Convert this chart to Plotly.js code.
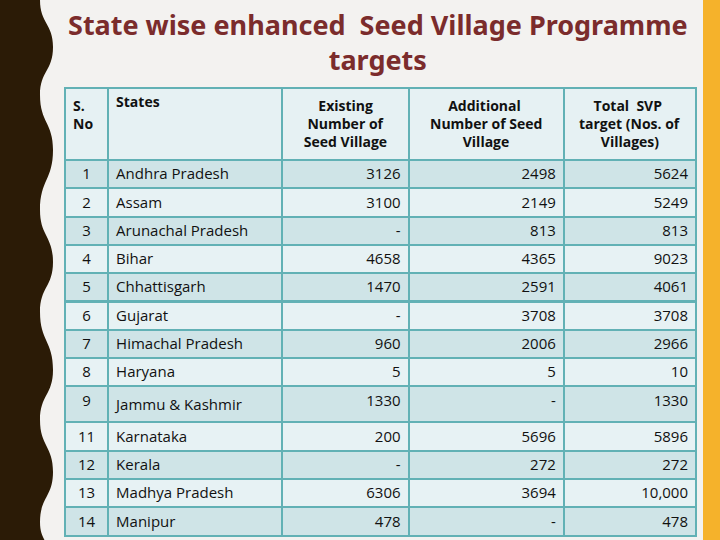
<!DOCTYPE html>
<html>
<head>
<meta charset="utf-8">
<script src="https://cdn.plot.ly/plotly-3.0.1.min.js"></script>
<style>html,body{margin:0;padding:0;background:#f3f2f0;}#chart{width:720px;height:540px;}</style>
</head>
<body>
<div id="chart"></div>
<script>
const headers = [["S.", "No"], ["States"], ["Existing", "Number of", "Seed Village"], ["Additional", "Number of Seed", "Village"], ["Total  SVP", "target (Nos. of", "Villages)"]];
const serialNo = ["1","2","3","4","5","6","7","8","9","11","12","13","14"];
const states = ["Andhra Pradesh","Assam","Arunachal Pradesh","Bihar","Chhattisgarh","Gujarat","Himachal Pradesh","Haryana","Jammu & Kashmir","Karnataka","Kerala","Madhya Pradesh","Manipur"];
const existing = ["3126","3100","-","4658","1470","-","960","5","1330","200","-","6306","478"];
const additional = ["2498","2149","813","4365","2591","3708","2006","5","-","5696","272","3694","-"];
const totalTarget = ["5624","5249","813","9023","4061","3708","2966","10","1330","5896","272","10,000","478"];

const W = 720, H = 540;
const px = x => x / W, py = y => 1 - y / H;

const nb = "\u00A0";
const headFont = {family: "Open Sans, sans-serif", size: 14, color: "#111111", weight: "bold"};
// centre each header line within its block (Plotly left-aligns lines of a multi-line cell)
const cv = document.createElement("canvas").getContext("2d");
cv.font = "bold 14px 'Open Sans'";
const spaceW = cv.measureText(nb).width;
function centreLines(lines, doCentre) {
  if (!doCentre) return lines.join("<br>");
  const ws = lines.map(l => cv.measureText(l).width);
  const mx = Math.max(...ws);
  return lines.map((l, i) => nb.repeat(Math.round((mx - ws[i]) / 2 / spaceW)) + l).join("<br>");
}
const headerText = headers.map((h, i) => centreLines(h, i >= 2));
const stateText = states.map(s => s.replace(/&/g, "&amp;"));

// wavy dark band on the left
const wave = [[0,40],[47,53],[95,40],[150,53],[210,40],[262,53],[312,40],[370,53],[420,40],[472,53],[522,40],[560,50]];
let d = `M ${px(0)} ${py(0)} L ${px(wave[0][1])} ${py(wave[0][0])}`;
for (let i = 1; i < wave.length; i++) {
  const [y0, x0] = wave[i-1], [y1, x1] = wave[i];
  const ym = (y1 - y0) / 2;
  d += ` C ${px(x0)} ${py(y0 + ym)} ${px(x1)} ${py(y1 - ym)} ${px(x1)} ${py(y1)}`;
}
d += ` L ${px(0)} ${py(560)} Z`;

const odd = "#cfe4e7", even = "#e7f2f4";
const rowFill = states.map((_, i) => i % 2 === 0 ? odd : even);

const trace = {
  type: "table",
  domain: {x: [px(65), px(696)], y: [py(537), py(88)]},
  columnwidth: [43, 174, 126, 155, 132],
  header: {
    values: headerText,
    align: ["left", "left", "center", "center", "center"],
    fill: {color: "#e6f1f3"},
    line: {color: "#62b1b5", width: 2},
    font: headFont,
    height: 72
  },
  cells: {
    values: [serialNo, stateText, existing, additional, totalTarget],
    align: ["center", "left", "right", "right", "right"],
    fill: {color: [rowFill, rowFill, rowFill, rowFill, rowFill]},
    line: {color: "#62b1b5", width: 2},
    font: {family: "Open Sans, sans-serif", size: 15, color: "#111111"},
    height: 28.3
  }
};

const layout = {
  width: W, height: H,
  margin: {l: 0, r: 0, t: 0, b: 0},
  paper_bgcolor: "#f3f2f0",
  plot_bgcolor: "#f3f2f0",
  showlegend: false,
  shapes: [
    {type: "path", xref: "paper", yref: "paper", path: d, fillcolor: "#2b1b06", line: {width: 0}, layer: "below"},
    {type: "rect", xref: "paper", yref: "paper", x0: px(703), x1: 1, y0: 0, y1: 1, fillcolor: "#f5b22b", line: {width: 0}, layer: "below"}
  ],
  annotations: [
    {xref: "paper", yref: "paper", x: px(378), y: py(4), xanchor: "center", yanchor: "top",
     text: "State wise enhanced  Seed Village Programme<br>targets", showarrow: false, align: "center",
     font: {family: "Noto Sans, sans-serif", size: 27, color: "#7b2c2c", weight: "bold"}}
  ]
};

Plotly.newPlot("chart", [trace], layout, {displayModeBar: false, staticPlot: true});
</script>
</body>
</html>
